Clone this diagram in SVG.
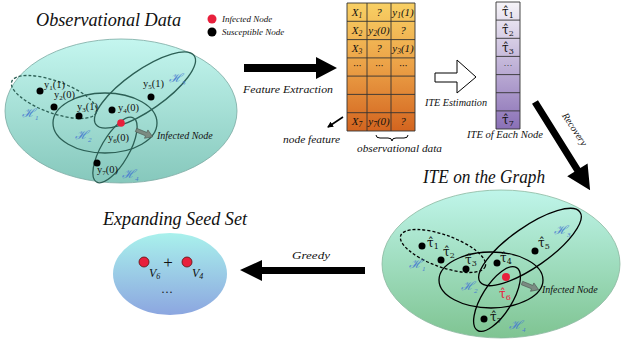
<svg xmlns="http://www.w3.org/2000/svg" width="622" height="342" viewBox="0 0 622 342">
<defs>
<linearGradient id="gLeft" x1="0" y1="0" x2="0" y2="1"><stop offset="0" stop-color="#c4f6ef"/><stop offset="1" stop-color="#86c8bc"/></linearGradient>
<linearGradient id="gRight" x1="0" y1="0" x2="0" y2="1"><stop offset="0" stop-color="#bff5ea"/><stop offset="1" stop-color="#7fc492"/></linearGradient>
<linearGradient id="gSeed" x1="0" y1="0" x2="0" y2="1"><stop offset="0" stop-color="#a9f1ec"/><stop offset="1" stop-color="#8ca6e0"/></linearGradient>
<linearGradient id="gTable" x1="0" y1="0" x2="0" y2="1"><stop offset="0" stop-color="#f8d064"/><stop offset="0.5" stop-color="#eba046"/><stop offset="1" stop-color="#d3641f"/></linearGradient>
<linearGradient id="gIte" x1="0" y1="0" x2="0" y2="1"><stop offset="0" stop-color="#f6f4f8"/><stop offset="1" stop-color="#8a70b6"/></linearGradient>
<marker id="mSmall" markerWidth="6" markerHeight="6" refX="5" refY="3" orient="auto" markerUnits="userSpaceOnUse"><path d="M0,0 L6,3 L0,6 Z" fill="#000"/></marker>
</defs>
<style>
text{font-family:"Liberation Serif","DejaVu Serif",serif;fill:#111}
.it{font-style:italic}
.title{font-style:italic;font-size:18px}
.cap{font-style:italic;font-size:10px}
.lbl{font-size:10.5px}
.tau{font-family:"DejaVu Serif","Liberation Serif",serif;font-size:12px}
.H{font-style:italic;font-size:12px;fill:#4a7fd0}
.cell{font-style:italic;font-size:11px;text-anchor:middle}
.hedgeL{fill:none;stroke:#2c5f55;stroke-width:1.3}
.hedgeR{fill:none;stroke:#000;stroke-width:1.3}
.dash{stroke-dasharray:3,2}
.grid{fill:none;stroke:#333;stroke-width:0.9}
.sus{fill:#000}
.inf{fill:#e8203c}
.garrow{fill:#7b8b82;stroke:#4c5a52;stroke-width:0.6}
</style>

<g id="observational-data">
<text class="title" x="36" y="26" textLength="145" lengthAdjust="spacingAndGlyphs">Observational Data</text>
<ellipse cx="121" cy="111" rx="116" ry="72" fill="url(#gLeft)" stroke="#7aa9a2" stroke-width="0.8"/>
<ellipse class="hedgeL dash" cx="54" cy="97" rx="45" ry="16" transform="rotate(20 54 97)"/>
<ellipse class="hedgeL" cx="105" cy="123" rx="52" ry="30"/>
<ellipse class="hedgeL" cx="145" cy="90" rx="60" ry="20" transform="rotate(-35 145 90)"/>
<ellipse class="hedgeL" cx="115" cy="150" rx="37" ry="14" transform="rotate(-60 115 150)"/>
<circle class="sus" cx="40" cy="91" r="3.5"/>
<circle class="sus" cx="54" cy="107" r="3.5"/>
<circle class="sus" cx="79" cy="116" r="3.5"/>
<circle class="sus" cx="112" cy="110" r="3.5"/>
<circle class="inf" cx="121" cy="123" r="3.8"/>
<circle class="sus" cx="151" cy="97" r="3.5"/>
<circle class="sus" cx="97" cy="163" r="3.5"/>
<text class="lbl" x="44" y="88">y<tspan font-size="7" dy="2">1</tspan><tspan dy="-2">(1)</tspan></text>
<text class="lbl" x="54" y="98">y<tspan font-size="7" dy="2">2</tspan><tspan dy="-2">(0)</tspan></text>
<text class="lbl" x="77" y="110">y<tspan font-size="7" dy="2">3</tspan><tspan dy="-2">(1)</tspan></text>
<text class="lbl" x="118" y="111">y<tspan font-size="7" dy="2">4</tspan><tspan dy="-2">(0)</tspan></text>
<text class="lbl" x="143" y="87">y<tspan font-size="7" dy="2">5</tspan><tspan dy="-2">(1)</tspan></text>
<text class="lbl" x="108" y="141">y<tspan font-size="7" dy="2">6</tspan><tspan dy="-2">(0)</tspan></text>
<text class="lbl" x="97" y="173">y<tspan font-size="7" dy="2">7</tspan><tspan dy="-2">(0)</tspan></text>
<text class="H" x="22" y="117">ℋ<tspan font-size="7" dy="3">1</tspan></text>
<text class="H" x="75" y="139">ℋ<tspan font-size="7" dy="3">2</tspan></text>
<text class="H" x="169" y="82">ℋ<tspan font-size="7" dy="3">3</tspan></text>
<text class="H" x="122" y="178">ℋ<tspan font-size="7" dy="3">4</tspan></text>
<g transform="translate(136,130) rotate(22)"><polygon class="garrow" points="0,-1.8 11,-1.8 11,-4.5 18,0 11,4.5 11,1.8 0,1.8"/></g>
<text class="cap" x="157" y="139" font-size="9.5">Infected Node</text>
</g>

<g id="legend">
<circle class="inf" cx="212" cy="19" r="4.5"/>
<circle class="sus" cx="212" cy="32" r="4.5"/>
<text class="it" x="222" y="22" font-size="9">Infected Node</text>
<text class="it" x="222" y="35" font-size="9">Susceptible Node</text>
</g>

<g id="feature-table">
<rect x="347" y="3" width="68" height="128" fill="url(#gTable)"/>
<path class="grid" d="M347,3 H415 V131 H347 Z M367,3 V131 M391,3 V131 M347,21.3 H415 M347,39.6 H415 M347,57.9 H415 M347,76.1 H415 M347,94.4 H415 M347,112.7 H415"/>
<text class="cell" x="357" y="16">X<tspan font-size="7.5" dy="2">1</tspan></text>
<text class="cell" x="379" y="16">?</text>
<text class="cell" x="403" y="16">y<tspan font-size="7.5" dy="2">1</tspan><tspan dy="-2">(1)</tspan></text>
<text class="cell" x="357" y="34">X<tspan font-size="7.5" dy="2">2</tspan></text>
<text class="cell" x="379" y="34">y<tspan font-size="7.5" dy="2">2</tspan><tspan dy="-2">(0)</tspan></text>
<text class="cell" x="403" y="34">?</text>
<text class="cell" x="357" y="52">X<tspan font-size="7.5" dy="2">3</tspan></text>
<text class="cell" x="379" y="52">?</text>
<text class="cell" x="403" y="52">y<tspan font-size="7.5" dy="2">3</tspan><tspan dy="-2">(1)</tspan></text>
<text class="cell" x="357" y="69">···</text>
<text class="cell" x="379" y="69">···</text>
<text class="cell" x="403" y="69">···</text>
<text class="cell" x="357" y="125">X<tspan font-size="7.5" dy="2">7</tspan></text>
<text class="cell" x="379" y="125">y<tspan font-size="7.5" dy="2">7</tspan><tspan dy="-2">(0)</tspan></text>
<text class="cell" x="403" y="125">?</text>
<path d="M376,135 q0,3 4,3 h8 q4,0 4,3 q0,-3 4,-3 h8 q4,0 4,-3" fill="none" stroke="#000" stroke-width="1"/>
<text class="cap" x="357" y="152" font-size="9.5" textLength="85" lengthAdjust="spacingAndGlyphs">observational data</text>
<text class="cap" x="283" y="143" font-size="9.5" textLength="57" lengthAdjust="spacingAndGlyphs">node feature</text>
</g>

<g id="ite-column">
<rect x="496" y="2" width="24" height="127" fill="url(#gIte)"/>
<path class="grid" d="M496,2 H520 V129 H496 Z M496,20.1 H520 M496,38.3 H520 M496,56.4 H520 M496,74.6 H520 M496,92.7 H520 M496,110.9 H520"/>
<text class="tau" x="502" y="16">τ̂<tspan font-size="8" dy="2">1</tspan></text>
<text class="tau" x="502" y="34">τ̂<tspan font-size="8" dy="2">2</tspan></text>
<text class="tau" x="502" y="52">τ̂<tspan font-size="8" dy="2">3</tspan></text>
<text x="508" y="68" font-size="9" text-anchor="middle">···</text>
<text class="tau" x="502" y="124">τ̂<tspan font-size="8" dy="2">7</tspan></text>
<text class="cap" x="467" y="138" font-size="9.5" textLength="76" lengthAdjust="spacingAndGlyphs">ITE of Each Node</text>
</g>

<g id="ite-graph">
<text class="title" x="423" y="183" font-size="17" textLength="122" lengthAdjust="spacingAndGlyphs">ITE on the Graph</text>
<ellipse cx="501" cy="264" rx="119" ry="74" fill="url(#gRight)" stroke="#8ab8a0" stroke-width="0.8"/>
<ellipse class="hedgeR dash" cx="443" cy="251" rx="45" ry="16" transform="rotate(20 443 251)"/>
<ellipse class="hedgeR" cx="491" cy="280" rx="52" ry="28"/>
<ellipse class="hedgeR" cx="530" cy="247" rx="61" ry="20" transform="rotate(-35 530 247)"/>
<ellipse class="hedgeR" cx="497" cy="299" rx="37" ry="15" transform="rotate(-58 497 299)"/>
<circle class="sus" cx="422" cy="246" r="3.5"/>
<circle class="sus" cx="441" cy="260" r="3.5"/>
<circle class="sus" cx="466" cy="269" r="3.5"/>
<circle class="sus" cx="497" cy="263" r="3.5"/>
<circle class="inf" cx="506" cy="277" r="4"/>
<circle class="sus" cx="535" cy="251" r="3.5"/>
<circle class="sus" cx="484" cy="319" r="3.5"/>
<text class="tau" x="427" y="247">τ̂<tspan font-size="8" dy="2">1</tspan></text>
<text class="tau" x="443" y="256">τ̂<tspan font-size="8" dy="2">2</tspan></text>
<text class="tau" x="465" y="264">τ̂<tspan font-size="8" dy="2">3</tspan></text>
<text class="tau" x="500" y="262">τ̂<tspan font-size="8" dy="2">4</tspan></text>
<text class="tau" x="538" y="247">τ̂<tspan font-size="8" dy="2">5</tspan></text>
<text class="tau" x="499" y="298" style="fill:#e8203c">τ̂<tspan font-size="8" dy="2">6</tspan></text>
<text class="tau" x="490" y="321">τ̂<tspan font-size="8" dy="2">7</tspan></text>
<text class="H" x="409" y="268">ℋ<tspan font-size="7" dy="3">1</tspan></text>
<text class="H" x="461" y="290">ℋ<tspan font-size="7" dy="3">2</tspan></text>
<text class="H" x="554" y="234">ℋ<tspan font-size="7" dy="3">3</tspan></text>
<text class="H" x="509" y="329">ℋ<tspan font-size="7" dy="3">4</tspan></text>
<g transform="translate(522,283) rotate(22)"><polygon class="garrow" points="0,-1.8 11,-1.8 11,-4.5 18,0 11,4.5 11,1.8 0,1.8"/></g>
<text class="cap" x="542" y="293" font-size="9.5">Infected Node</text>
</g>

<g id="seed-set">
<text class="title" x="103" y="225" font-size="17" textLength="144" lengthAdjust="spacingAndGlyphs">Expanding Seed Set</text>
<ellipse cx="170" cy="274" rx="57" ry="41" fill="url(#gSeed)"/>
<circle cx="144" cy="262" r="5" fill="#e8203c" stroke="#5a1010" stroke-width="0.8"/>
<circle cx="187" cy="262" r="5" fill="#e8203c" stroke="#5a1010" stroke-width="0.8"/>
<text x="168" y="268" font-size="17" text-anchor="middle">+</text>
<text class="it" x="149" y="277" font-size="12">V<tspan font-size="8" dy="2">6</tspan></text>
<text class="it" x="192" y="277" font-size="12">V<tspan font-size="8" dy="2">4</tspan></text>
<text x="167" y="296" font-size="12" text-anchor="middle">···</text>
</g>

<g id="connectors">
<polygon points="244,64 316,64 316,57 337,68 316,79 316,72 244,72" fill="#000"/>
<text class="cap" x="243" y="93" font-size="10.5" textLength="90" lengthAdjust="spacingAndGlyphs">Feature Extraction</text>
<line x1="343" y1="117" x2="328" y2="127" stroke="#000" stroke-width="1.6" marker-end="url(#mSmall)"/>
<polygon points="435,73 457,73 457,60 476,77 457,93 457,82 435,82" fill="#fff" stroke="#000" stroke-width="1"/>
<text class="cap" x="425" y="106" font-size="9.5" textLength="62" lengthAdjust="spacingAndGlyphs">ITE Estimation</text>
<g transform="translate(535,102) rotate(58)"><polygon points="0,-3.5 80,-3.5 80,-12 104,0 80,12 80,3.5 0,3.5" fill="#000"/></g>
<text class="cap" font-size="11" text-anchor="middle" transform="translate(572,131) rotate(57)">Recovery</text>
<polygon points="365,267 262,267 262,260 240,270 262,281 262,274 365,274" fill="#000"/>
<text class="cap" x="292" y="259" font-size="10.5" textLength="38" lengthAdjust="spacingAndGlyphs">Greedy</text>
</g>
</svg>
